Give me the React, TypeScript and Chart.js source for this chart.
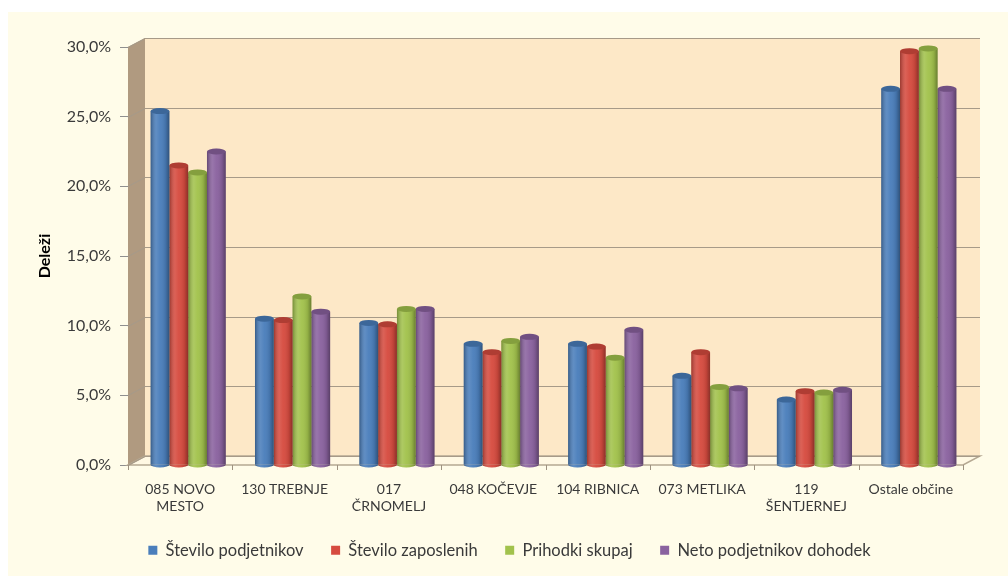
import { useEffect, useRef } from 'react';
import { Chart, registerables } from 'chart.js';

Chart.register(...registerables);

const categories: (string | string[])[] = [
  ['085 NOVO', 'MESTO'],
  '130 TREBNJE',
  ['017', 'ČRNOMELJ'],
  '048 KOČEVJE',
  '104 RIBNICA',
  '073 METLIKA',
  ['119', 'ŠENTJERNEJ'],
  'Ostale občine',
];

const seriesNames = [
  'Število podjetnikov',
  'Število zaposlenih',
  'Prihodki skupaj',
  'Neto podjetnikov dohodek',
];

const steviloPodjetnikov = [25.4, 10.5, 10.2, 8.7, 8.7, 6.4, 4.7, 27.0];
const steviloZaposlenih = [21.5, 10.4, 10.1, 8.1, 8.5, 8.1, 5.3, 29.7];
const prihodkiSkupaj = [21.0, 12.1, 11.2, 8.9, 7.7, 5.6, 5.2, 29.9];
const netoDohodek = [22.5, 11.0, 11.2, 9.2, 9.7, 5.5, 5.4, 27.0];

const yTicks = [0, 5, 10, 15, 20, 25, 30];
const yTitle = 'Deleži';

const seriesColors = ['#4A7EBB', '#D64B3F', '#A2C24C', '#8A629F'];

const FONT = 'Lato, "Open Sans", sans-serif';
const DX = 17;
const DY = 9;
const BAR_SHIFT = 8;
const LEGEND_SHIFT = 24;

const legendShiftPlugin = {
  id: 'legendShift',
  afterLayout(chart: any) {
    const lg = chart.legend;
    if (lg) {
      lg.left += LEGEND_SHIFT;
      lg.right += LEGEND_SHIFT;
    }
  },
};

const wallsPlugin = {
  id: 'walls',
  beforeDatasetsDraw(chart: any) {
    const { ctx, chartArea } = chart;
    const { left: L, right: R, top: T, bottom: B } = chartArea;
    const ys = chart.scales.y;
    ctx.save();
    ctx.fillStyle = '#FDE8C7';
    ctx.fillRect(L + DX, T - DY, R - L, B - T);
    ctx.beginPath();
    ctx.moveTo(L, T);
    ctx.lineTo(L + DX, T - DY);
    ctx.lineTo(L + DX, B - DY);
    ctx.lineTo(L, B);
    ctx.closePath();
    ctx.fillStyle = '#B09A80';
    ctx.fill();
    ctx.beginPath();
    ctx.moveTo(L, B);
    ctx.lineTo(L + DX, B - DY);
    ctx.lineTo(R + DX, B - DY);
    ctx.lineTo(R, B);
    ctx.closePath();
    ctx.fillStyle = '#FFF8E3';
    ctx.fill();
    ctx.strokeStyle = '#B5A892';
    ctx.lineWidth = 1.5;
    ctx.stroke();
    ctx.strokeStyle = '#A79A88';
    ctx.lineWidth = 1.2;
    yTicks.forEach((v) => {
      const y = Math.round(ys.getPixelForValue(v)) + 0.5;
      ctx.beginPath();
      ctx.moveTo(L, y);
      ctx.lineTo(L + DX, y - DY);
      ctx.lineTo(R + DX, y - DY);
      ctx.stroke();
    });
    const n = categories.length;
    ctx.strokeStyle = '#9E9280';
    ctx.lineWidth = 1;
    for (let i = 0; i <= n; i++) {
      const x = Math.round(L + (i * (R - L)) / n) + 0.5;
      ctx.beginPath();
      ctx.moveTo(x, B);
      ctx.lineTo(x, B + 5);
      ctx.stroke();
    }
    ctx.restore();
    // bars sit a little deeper in the 3D box
    ctx.save();
    ctx.translate(BAR_SHIFT, 0);
  },
  afterDatasetsDraw(chart: any) {
    const ctx = chart.ctx;
    chart.data.datasets.forEach((ds: any, di: number) => {
      const meta = chart.getDatasetMeta(di);
      meta.data.forEach((el: any) => {
        const { x, y, base, width } = el.getProps(['x', 'y', 'base', 'width'], true);
        const l = x - width / 2;
        const g = ctx.createLinearGradient(l, 0, l + width, 0);
        g.addColorStop(0, 'rgba(0,0,0,0.28)');
        g.addColorStop(0.3, 'rgba(255,255,255,0.12)');
        g.addColorStop(0.5, 'rgba(255,255,255,0.04)');
        g.addColorStop(0.8, 'rgba(0,0,0,0.1)');
        g.addColorStop(1, 'rgba(0,0,0,0.35)');
        ctx.save();
        ctx.fillStyle = g;
        ctx.fillRect(l, y, width, base - y);
        ctx.beginPath();
        ctx.ellipse(x, base, width / 2, 3, 0, 0, Math.PI);
        ctx.fillStyle = ds.backgroundColor;
        ctx.fill();
        ctx.fillStyle = g;
        ctx.fill();
        ctx.beginPath();
        ctx.ellipse(x, y, width / 2, 3, 0, 0, 2 * Math.PI);
        ctx.fillStyle = ds.backgroundColor;
        ctx.fill();
        ctx.fillStyle = 'rgba(0,0,0,0.18)';
        ctx.fill();
        ctx.restore();
      });
    });
    ctx.restore();
  },
};

export default function App() {
  const canvasRef = useRef<HTMLCanvasElement | null>(null);

  useEffect(() => {
    if (!canvasRef.current) return;
    const seriesData = [steviloPodjetnikov, steviloZaposlenih, prihodkiSkupaj, netoDohodek];
    const chart = new Chart(canvasRef.current, {
      type: 'bar',
      data: {
        labels: categories,
        datasets: seriesNames.map((name, i) => ({
          label: name,
          data: seriesData[i],
          backgroundColor: seriesColors[i],
          borderWidth: 0,
          categoryPercentage: 0.72,
          barPercentage: 1.0,
        })),
      },
      options: {
        animation: false,
        responsive: true,
        maintainAspectRatio: false,
        layout: { padding: { top: 35, right: 45, bottom: 7.5, left: 0 } },
        plugins: {
          legend: {
            position: 'bottom',
            labels: {
              boxWidth: 9,
              boxHeight: 9,
              padding: 27.5,
              color: '#3a3a3a',
              font: { family: FONT, size: 16.5 },
            },
          },
          tooltip: { enabled: false },
        },
        scales: {
          x: {
            grid: { display: false, drawTicks: false },
            border: { display: false },
            ticks: {
              color: '#3a3a3a',
              font: { family: FONT, size: 14 },
              padding: 16,
              maxRotation: 0,
              autoSkip: false,
            },
            afterFit: (s: any) => {
              s.height = 49.5;
            },
          },
          y: {
            min: 0,
            max: 30,
            ticks: {
              stepSize: 5,
              color: '#3a3a3a',
              font: { family: FONT, size: 16 },
              padding: 9,
              callback: (v: any) => Number(v).toFixed(1).replace('.', ',') + '%',
            },
            grid: {
              display: true,
              drawOnChartArea: false,
              drawTicks: true,
              tickLength: 8,
              color: '#8f8f8f',
            },
            border: { display: true, color: '#9C8D7A' },
            title: {
              display: true,
              text: yTitle,
              color: '#000',
              font: { family: FONT, size: 16, weight: 'bold' },
              padding: { top: 27, bottom: 0 },
            },
            afterFit: (s: any) => {
              s.width = 120;
            },
          },
        },
      },
      plugins: [wallsPlugin, legendShiftPlugin],
    } as any);
    return () => chart.destroy();
  }, []);

  return (
    <div
      style={{
        position: 'fixed',
        left: 8,
        top: 12,
        right: 0,
        bottom: 0,
        background: '#FFFCE9',
      }}
    >
      <canvas ref={canvasRef} />
    </div>
  );
}
